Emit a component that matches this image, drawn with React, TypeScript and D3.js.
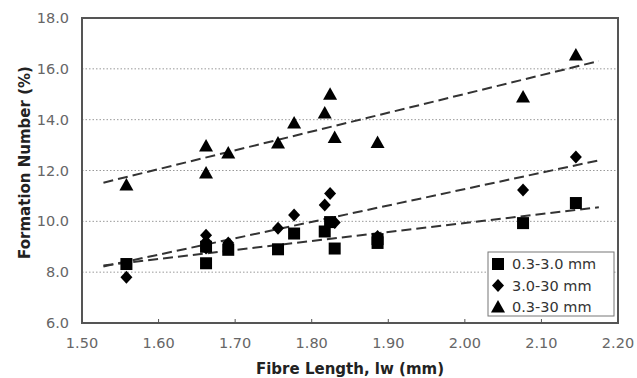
import React, { useLayoutEffect } from "react";
import * as d3 from "d3";

// ---- data ----
const xTicks = [1.5, 1.6, 1.7, 1.8, 1.9, 2.0, 2.1, 2.2];
const yTicks = [6, 8, 10, 12, 14, 16, 18];
const gridYs = [8, 10, 12, 14, 16];
const seriesNames = ["0.3-3.0 mm", "3.0-30 mm", "0.3-30 mm"];

const sqX = [1.558, 1.662, 1.662, 1.691, 1.756, 1.777, 1.817, 1.824, 1.83, 1.886, 1.886, 2.076, 2.145];
const sqY = [8.32, 8.35, 9.0, 8.88, 8.9, 9.52, 9.6, 9.97, 8.93, 9.15, 9.3, 9.93, 10.72];

const diX = [1.558, 1.662, 1.662, 1.662, 1.691, 1.756, 1.777, 1.817, 1.824, 1.83, 1.886, 2.076, 2.145];
const diY = [7.8, 9.45, 9.2, 8.95, 9.15, 9.73, 10.25, 10.64, 11.1, 9.95, 9.4, 11.23, 12.53];

const trX = [1.558, 1.662, 1.662, 1.691, 1.756, 1.777, 1.817, 1.824, 1.83, 1.886, 2.076, 2.145];
const trY = [11.43, 12.96, 11.9, 12.69, 13.08, 13.87, 14.26, 15.0, 13.3, 13.1, 14.89, 16.54];

const forecast = 0.03;

// ---- layout ----
const W = 637, H = 378;
const L = 82, R = 618, T = 18, B = 323;

function fit(xs: number[], ys: number[]) {
  const mx = d3.mean(xs)!, my = d3.mean(ys)!;
  let sxy = 0, sxx = 0;
  xs.forEach((x, i) => { sxy += (x - mx) * (ys[i] - my); sxx += (x - mx) * (x - mx); });
  const m = sxy / sxx;
  return (x: number) => my + m * (x - mx);
}

function Marker({ kind, cx, cy }: { kind: number; cx: number; cy: number }) {
  if (kind === 0) return <rect x={cx - 6} y={cy - 6} width={12} height={12} fill="#000" />;
  if (kind === 1) return <path d={`M${cx},${cy - 6.5}L${cx + 6},${cy}L${cx},${cy + 6.5}L${cx - 6},${cy}Z`} fill="#000" />;
  return <path d={`M${cx},${cy - 7}L${cx + 7},${cy + 5.5}L${cx - 7},${cy + 5.5}Z`} fill="#000" />;
}

export default function App() {
  useLayoutEffect(() => { document.body.style.margin = "0"; }, []);
  const x = d3.scaleLinear().domain([1.5, 2.2]).range([L, R]);
  const y = d3.scaleLinear().domain([6, 18]).range([B, T]);
  const series = [
    { xs: sqX, ys: sqY },
    { xs: diX, ys: diY },
    { xs: trX, ys: trY },
  ];
  const font = "'DejaVu Sans', Verdana, sans-serif";
  const line = d3.line<[number, number]>().x(d => x(d[0])).y(d => y(d[1]));
  return (
    <svg width={W} height={H} style={{ display: "block", background: "#fff" }} fontFamily={font}>
      {gridYs.map(v => (
        <line key={v} x1={L} x2={R} y1={y(v)} y2={y(v)} stroke="#999" strokeWidth={1} strokeDasharray="1.5 2" />
      ))}
      {/* trend lines */}
      {series.map((s, i) => {
        const f = fit(s.xs, s.ys);
        const x0 = d3.min(s.xs)! - forecast, x1 = d3.max(s.xs)! + forecast;
        return <path key={"t" + i} d={line([[x0, f(x0)], [x1, f(x1)]])!} stroke="#333" strokeWidth={2} strokeDasharray="10 5" fill="none" />;
      })}
      {series.map((s, i) => s.xs.map((xv, j) => (
        <Marker key={i + "-" + j} kind={i} cx={x(xv)} cy={y(s.ys[j])} />
      )))}
      {/* frame */}
      <rect x={L} y={T} width={R - L} height={B - T} fill="none" stroke="#555" strokeWidth={2} />
      {xTicks.map(v => (
        <line key={"xt" + v} x1={x(v)} x2={x(v)} y1={B} y2={B - 4} stroke="#555" strokeWidth={1} />
      ))}
      {xTicks.map(v => (
        <text key={"xl" + v} x={x(v)} y={B + 25} textAnchor="middle" fontSize={14.5} fill="#666">{v.toFixed(2)}</text>
      ))}
      {yTicks.map(v => (
        <text key={"yl" + v} x={L - 13} y={y(v) + 5} textAnchor="end" fontSize={14.5} fill="#666">{v.toFixed(1)}</text>
      ))}
      <text x={(L + R) / 2} y={374} textAnchor="middle" fontSize={15} fontWeight="bold" fill="#222">Fibre Length, lw (mm)</text>
      <text transform={`translate(30,${(T + B) / 2 - 8}) rotate(-90)`} textAnchor="middle" fontSize={15} fontWeight="bold" fill="#222">Formation Number (%)</text>
      {/* legend */}
      <rect x={488} y={252} width={126} height={64} fill="#fff" stroke="#777" strokeWidth={1} />
      {seriesNames.map((n, i) => (
        <g key={"lg" + i}>
          <Marker kind={i} cx={498} cy={264 + i * 21.5} />
          <text x={512} y={269 + i * 21.5} fontSize={14.5} fill="#333">{n}</text>
        </g>
      ))}
    </svg>
  );
}
